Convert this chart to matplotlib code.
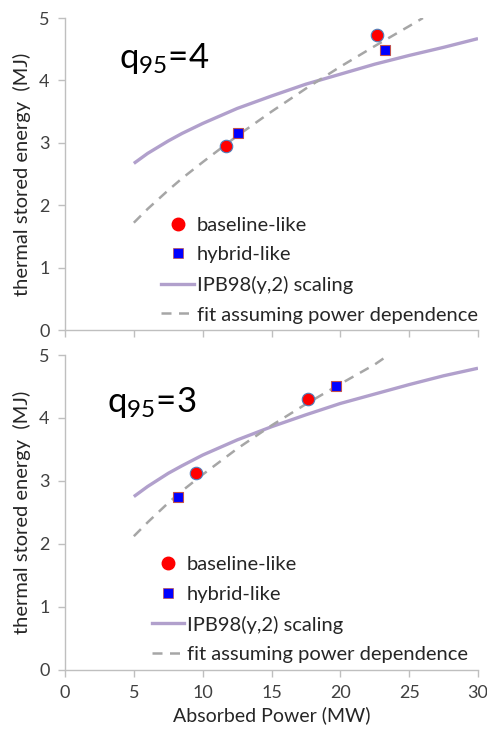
import matplotlib
matplotlib.use("Agg")
import matplotlib.pyplot as plt
from matplotlib.lines import Line2D

plt.rcParams['font.family'] = ['Lato', 'DejaVu Sans']
plt.rcParams['mathtext.fontset'] = 'custom'
plt.rcParams['mathtext.rm'] = 'Lato'
plt.rcParams['mathtext.it'] = 'Lato'

# q95 = 4 panel
base4_x = [11.7, 22.7]
base4_y = [2.95, 4.72]
hyb4_x = [12.6, 23.25]
hyb4_y = [3.15, 4.48]
ipb4_x = [5, 6, 7.5, 8.5, 10, 12.5, 15, 17.5, 20, 22.5, 25, 27.5, 30]
ipb4_y = [2.67, 2.83, 3.03, 3.15, 3.31, 3.55, 3.75, 3.94, 4.10, 4.26, 4.40, 4.53, 4.67]
fit4_x = [5, 6, 7.5, 8.5, 10, 12.5, 15, 17.5, 20, 22.5, 25, 26]
fit4_y = [1.72, 1.94, 2.24, 2.43, 2.69, 3.11, 3.50, 3.87, 4.22, 4.55, 4.87, 5.0]

# q95 = 3 panel
base3_x = [9.55, 17.65]
base3_y = [3.13, 4.30]
hyb3_x = [8.2, 19.67]
hyb3_y = [2.75, 4.50]
ipb3_x = [5, 6, 7.5, 8.5, 10, 12.5, 15, 17.5, 20, 22.5, 25, 27.5, 30]
ipb3_y = [2.75, 2.91, 3.12, 3.24, 3.41, 3.65, 3.86, 4.05, 4.23, 4.38, 4.53, 4.67, 4.79]
fit3_x = [5, 6, 7.5, 8.5, 10, 12.5, 15, 17.5, 20, 22.5, 23.3]
fit3_y = [2.12, 2.34, 2.65, 2.84, 3.10, 3.51, 3.88, 4.22, 4.54, 4.85, 4.97]

labels = ['baseline-like', 'hybrid-like', 'IPB98(y,2) scaling', 'fit assuming power dependence']
titles = ['q$_{95}$=4', 'q$_{95}$=3']

purple = '#B1A0CC'
grey = '#A6A6A6'
axcol = '#BFBFBF'
txt = '#404040'

fig = plt.figure(figsize=(4.87, 7.29), dpi=100)
ax1 = fig.add_axes([0.1335, 0.5473, 0.848, 0.428])
ax2 = fig.add_axes([0.1335, 0.0815, 0.848, 0.4315])

panels = [
    (ax1, base4_x, base4_y, hyb4_x, hyb4_y, ipb4_x, ipb4_y, fit4_x, fit4_y, titles[0], 0.13, 0.87, 0.214),
    (ax2, base3_x, base3_y, hyb3_x, hyb3_y, ipb3_x, ipb3_y, fit3_x, fit3_y, titles[1], 0.102, 0.85, 0.19),
]

for ax, bx, by, hx, hy, ix, iy, fx, fy, title, tx, ty, lx in panels:
    ax.plot(ix, iy, color=purple, lw=2.4, solid_capstyle='butt', solid_joinstyle='round')
    ax.plot(fx, fy, color=grey, lw=1.8, dashes=(4, 3))
    ax.plot(bx, by, 'o', ms=9, mfc='#FF0000', mec='#4F81BD', mew=0.8, ls='none')
    ax.plot(hx, hy, 's', ms=7, mfc='#0000FF', mec='#C0504D', mew=0.8, ls='none')
    ax.set_xlim(0, 30)
    ax.set_ylim(0, 5)
    ax.set_xticks(range(0, 31, 5))
    ax.set_yticks(range(0, 6))
    for s in ['top', 'right']:
        ax.spines[s].set_visible(False)
    for s in ['left', 'bottom']:
        ax.spines[s].set_color(axcol)
        ax.spines[s].set_linewidth(1.0)
    ax.tick_params(colors=axcol, labelcolor=txt, labelsize=13, length=5, width=1.0, pad=6)
    ax.set_ylabel('thermal stored energy  (MJ)', fontsize=14.5, color='#262626', labelpad=6)
    ax.text(tx, ty, title, transform=ax.transAxes, fontsize=25, color='black',
            ha='left', va='center')

    handles = [
        Line2D([], [], marker='o', ms=9, mfc='#FF0000', mec='#FF0000', ls='none'),
        Line2D([], [], marker='s', ms=7, mfc='#0000FF', mec='#C0504D', mew=0.5, ls='none'),
        Line2D([], [], color=purple, lw=2.4),
        Line2D([], [], color=grey, lw=1.8, dashes=(4, 3)),
    ]
    ax.legend(handles, labels, loc='lower left', bbox_to_anchor=(lx, -0.005),
              frameon=False, fontsize=14.5, handlelength=1.6, handletextpad=0.15,
              labelspacing=0.62, borderaxespad=0, labelcolor='#262626')

ax1.set_xticklabels([])
ax2.set_xlabel('Absorbed Power (MW)', fontsize=14, color='#262626', labelpad=4)

fig.savefig('out.png', dpi=100)
